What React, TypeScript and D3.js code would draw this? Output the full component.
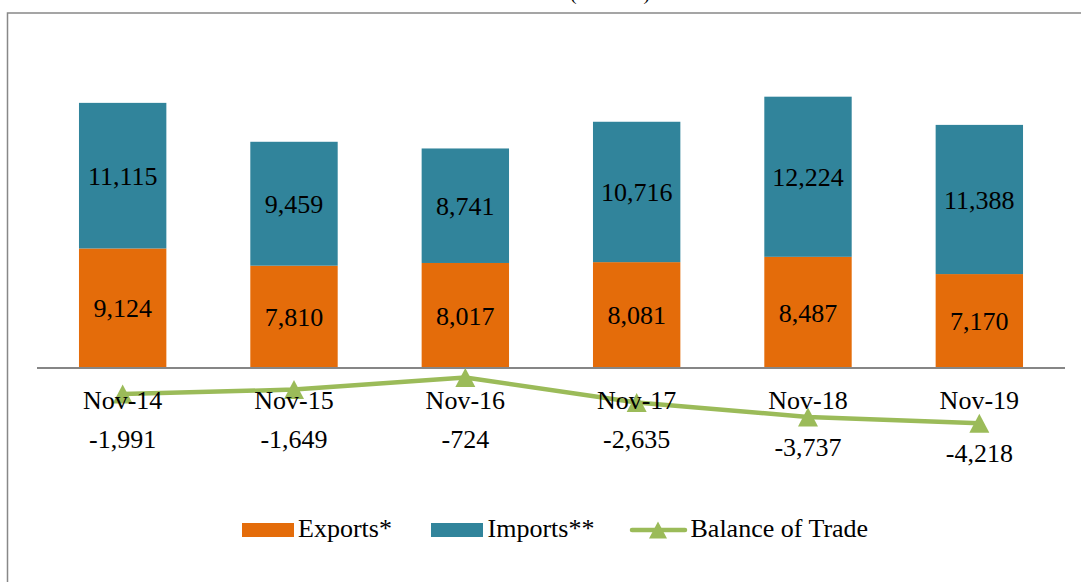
import React from "react";
import * as d3 from "d3";

const categories = ["Nov-14", "Nov-15", "Nov-16", "Nov-17", "Nov-18", "Nov-19"];
const exportsData = [9124, 7810, 8017, 8081, 8487, 7170];
const importsData = [11115, 9459, 8741, 10716, 12224, 11388];
const balanceData = [-1991, -1649, -724, -2635, -3737, -4218];
const seriesNames = ["Exports*", "Imports**", "Balance of Trade"];
const titleText = "(USD mn)";

const W = 1081;
const H = 582;
const COLORS = { exp: "#E46C0A", imp: "#31849B", bal: "#9BBB59", axis: "#868686", border: "#888888" };
const FONT = "'Liberation Serif', 'Times New Roman', serif";

const fmt = d3.format(",");

export default function App() {
  const x = d3.scaleBand<string>().domain(categories).range([37, 1065]).paddingInner(0.49).paddingOuter(0.245);
  const y = d3.scaleLinear().domain([-5000, 25000]).range([433.5, 40.5]);
  const y0 = y(0);
  const bw = x.bandwidth();
  const cx = (c: string) => (x(c) as number) + bw / 2;

  const line = d3
    .line<number>()
    .x((_, i) => cx(categories[i]))
    .y((d) => y(d));

  const tri = (px: number, py: number, w = 20, h = 19) =>
    `M${px},${py - h / 2}L${px + w / 2},${py + h / 2}L${px - w / 2},${py + h / 2}Z`;

  return (
    <svg width={W} height={H} style={{ position: "absolute", left: 0, top: 0, background: "#fff" }} fontFamily={FONT}>
      <rect x={0} y={0} width={W} height={H} fill="#fff" />
      <text x={610} y={-0.5} textAnchor="middle" fontSize={19} fill="#000">{titleText}</text>
      <rect x={7.5} y={13} width={1400} height={800} fill="none" stroke={COLORS.border} strokeWidth={1.5} />

      {categories.map((c, i) => {
        const eTop = y(exportsData[i]);
        const iTop = y(exportsData[i] + importsData[i]);
        return (
          <g key={c}>
            <rect x={x(c)} y={eTop} width={bw} height={y0 - eTop} fill={COLORS.exp} />
            <rect x={x(c)} y={iTop} width={bw} height={eTop - iTop} fill={COLORS.imp} />
            <text x={cx(c)} y={(eTop + y0) / 2} dy="0.35em" textAnchor="middle" fontSize={26} fill="#000">
              {fmt(exportsData[i])}
            </text>
            <text x={cx(c)} y={(iTop + eTop) / 2} dy="0.35em" textAnchor="middle" fontSize={26} fill="#000">
              {fmt(importsData[i])}
            </text>
          </g>
        );
      })}

      <line x1={37} x2={1065} y1={y0} y2={y0} stroke={COLORS.axis} strokeWidth={2} />

      <path d={line(balanceData) || ""} fill="none" stroke={COLORS.bal} strokeWidth={4.5} strokeLinejoin="round" />
      {balanceData.map((v, i) => (
        <path key={categories[i]} d={tri(cx(categories[i]), y(v))} fill={COLORS.bal} />
      ))}

      {categories.map((c) => (
        <text key={c} x={cx(c)} y={409} textAnchor="middle" fontSize={26} fill="#000">
          {c}
        </text>
      ))}

      {balanceData.map((v, i) => (
        <text key={categories[i]} x={cx(categories[i])} y={Math.max(y(v) + 39, 448)} textAnchor="middle" fontSize={26} fill="#000">
          {fmt(v).replace("−", "-")}
        </text>
      ))}

      {/* legend */}
      <g>
        <rect x={242} y={523} width={52} height={14} fill={COLORS.exp} />
        <text x={298} y={537} fontSize={26} fill="#000">{seriesNames[0]}</text>
        <rect x={431} y={523} width={52} height={14} fill={COLORS.imp} />
        <text x={487.5} y={537} fontSize={26} fill="#000">{seriesNames[1]}</text>
        <line x1={632} x2={685} y1={530} y2={530} stroke={COLORS.bal} strokeWidth={4.5} strokeLinecap="round" />
        <path d={tri(658, 530, 18, 17)} fill={COLORS.bal} />
        <text x={690.5} y={537} fontSize={26} fill="#000">{seriesNames[2]}</text>
      </g>
    </svg>
  );
}
